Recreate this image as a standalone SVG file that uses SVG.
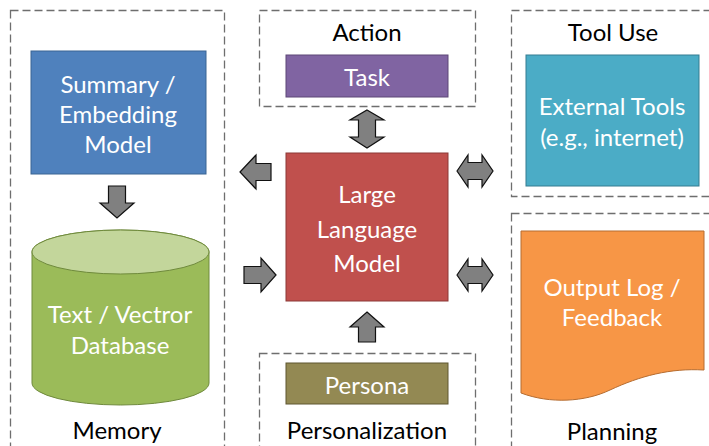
<svg xmlns="http://www.w3.org/2000/svg" width="709" height="446" viewBox="0 0 709 446">
<style>
.dash{fill:none;stroke:#6e6e6e;stroke-width:1.3;stroke-dasharray:8 4}
.arr{fill:#808080;stroke:#111;stroke-width:1.2;stroke-linejoin:miter}
.t{font-family:Lato,"Open Sans","Liberation Sans",sans-serif;font-size:24px;text-anchor:middle;dominant-baseline:central}
.w{fill:#fff}
.k{fill:#000}
</style>
<rect width="709" height="446" fill="#fff"/>
<g id="memory">
<rect class="dash" x="10.5" y="10.5" width="214" height="450"/>
<text class="t k" x="117" y="429">Memory</text>
</g>
<g id="summary">
<rect x="31" y="51" width="175" height="123" fill="#4F81BD" stroke="#3A6593" stroke-width="1"/>
<text class="t w" x="118" y="83">Summary /</text>
<text class="t w" x="118" y="113">Embedding</text>
<text class="t w" x="118" y="143">Model</text>
</g>
<g id="database">
<path d="M32,252 A88.5,22 0 0 1 209,252 V383 A88.5,22 0 0 1 32,383 Z" fill="#9BBB59" stroke="#6F8A3C" stroke-width="1"/>
<ellipse cx="120.5" cy="252" rx="88.5" ry="22" fill="#C3D69B" stroke="#6F8A3C" stroke-width="1"/>
<text class="t w" x="120" y="313">Text / Vectror</text>
<text class="t w" x="120" y="344">Database</text>
</g>
<g id="action">
<rect class="dash" x="259.5" y="10.5" width="216" height="96"/>
<text class="t k" x="367" y="31">Action</text>
</g>
<g id="task">
<rect x="286" y="55" width="162" height="42" fill="#8064A2" stroke="#5C4776" stroke-width="1"/>
<text class="t w" x="367" y="76">Task</text>
</g>
<g id="llm">
<rect x="286" y="153" width="162" height="148" fill="#C0504D" stroke="#8C3836" stroke-width="1"/>
<text class="t w" x="367" y="193">Large</text>
<text class="t w" x="367" y="228">Language</text>
<text class="t w" x="367" y="262">Model</text>
</g>
<g id="personalization">
<rect class="dash" x="259.5" y="353.5" width="216" height="110"/>
<text class="t k" x="367" y="429">Personalization</text>
</g>
<g id="persona">
<rect x="286" y="363" width="162" height="41" fill="#938953" stroke="#5E5730" stroke-width="1"/>
<text class="t w" x="367" y="384">Persona</text>
</g>
<g id="tooluse">
<rect class="dash" x="511.5" y="10.5" width="210" height="186"/>
<text class="t k" x="613" y="31">Tool Use</text>
</g>
<g id="tools">
<rect x="526" y="55" width="173" height="131" fill="#4BACC6" stroke="#357D91" stroke-width="1"/>
<text class="t w" x="612" y="105">External Tools</text>
<text class="t w" x="612" y="136">(e.g., internet)</text>
</g>
<g id="planning">
<rect class="dash" x="511.5" y="213.5" width="210" height="250"/>
<text class="t k" x="612" y="430">Planning</text>
</g>
<g id="output">
<path d="M521,231 H704 V370 C670,368 640,376 610,390 C585,402 550,404 521,393 Z" fill="#F79646" stroke="#B66D31" stroke-width="1"/>
<text class="t w" x="612" y="286">Output Log /</text>
<text class="t w" x="612" y="316">Feedback</text>
</g>
<g id="connectors">
<polygon class="arr" points="108.5,186 125.5,186 125.5,203 134,203 117,218 100,203 108.5,203"/>
<polygon class="arr" points="240,172 256,155 256,163.5 271,163.5 271,180.5 256,180.5 256,189"/>
<polygon class="arr" points="276,275 261,258 261,266.5 244,266.5 244,283.5 261,283.5 261,292"/>
<polygon class="arr" points="457,171 468,155 468,162.5 482,162.5 482,155 493,171 482,187 482,179.5 468,179.5 468,187"/>
<polygon class="arr" points="457,275 468,259 468,266.5 482,266.5 482,259 493,275 482,291 482,283.5 468,283.5 468,291"/>
<polygon class="arr" points="367,110 384,120 375.5,120 375.5,137 384,137 367,148 350,137 358.5,137 358.5,120 350,120"/>
<polygon class="arr" points="367,312 384,327 375.5,327 375.5,342 358.5,342 358.5,327 350,327"/>
</g>
</svg>
